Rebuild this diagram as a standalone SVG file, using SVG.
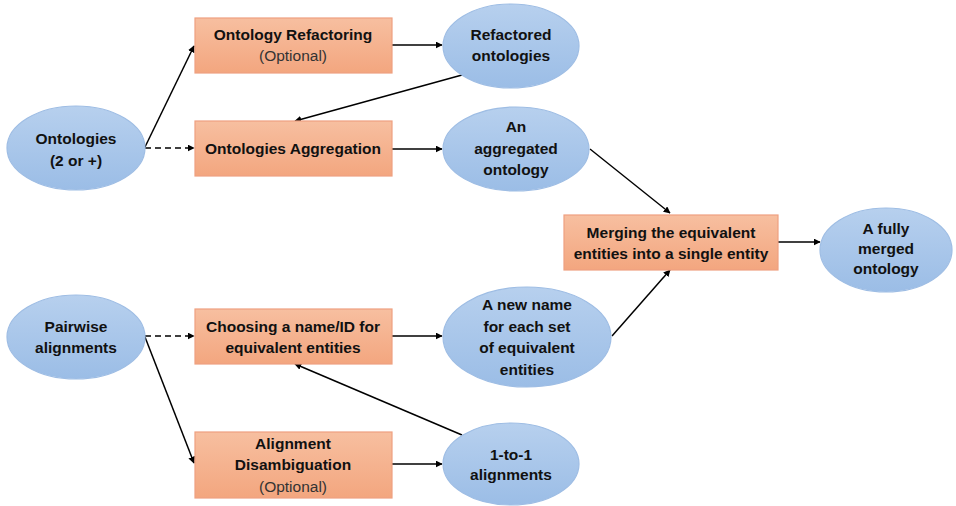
<svg xmlns="http://www.w3.org/2000/svg" width="956" height="506" viewBox="0 0 956 506">
<defs>
<linearGradient id="gb" x1="0" y1="0" x2="0" y2="1"><stop offset="0" stop-color="#B7D0EE"/><stop offset="1" stop-color="#9BBDE6"/></linearGradient>
<linearGradient id="go" x1="0" y1="0" x2="0" y2="1"><stop offset="0" stop-color="#F7BFA0"/><stop offset="1" stop-color="#F3A67F"/></linearGradient>
<marker id="ah" viewBox="0 0 10 10" refX="9" refY="5" markerWidth="7" markerHeight="7" markerUnits="userSpaceOnUse" orient="auto"><path d="M0,0 L10,5 L0,10 z" fill="#000"/></marker>
</defs>
<style>
.e{fill:url(#gb);stroke:#9EBDE4;stroke-width:1.2}
.b{fill:url(#go);stroke:#EFA080;stroke-width:1.2}
text{font-family:"Liberation Sans",Arial,sans-serif;font-size:15.5px;font-weight:bold;fill:#111;text-anchor:middle}
.n{font-weight:normal;fill:#333}
.c line{stroke:#000;stroke-width:1.5;marker-end:url(#ah)}
.c .d{stroke-dasharray:6,4}
</style>
<rect width="956" height="506" fill="#fff"/>
<g class="c" id="connectors">
<line x1="145" y1="147" x2="194" y2="46"/>
<line class="d" x1="145" y1="148" x2="194" y2="148"/>
<line x1="392" y1="45" x2="442" y2="45"/>
<line x1="462" y1="75" x2="295" y2="121"/>
<line x1="392" y1="149" x2="442" y2="149"/>
<line x1="590" y1="149" x2="670" y2="213"/>
<line x1="612" y1="336" x2="670" y2="270"/>
<line x1="778" y1="242" x2="820" y2="242"/>
<line class="d" x1="145" y1="336" x2="194" y2="336"/>
<line x1="145" y1="337" x2="194" y2="463"/>
<line x1="392" y1="336" x2="442" y2="336"/>
<line x1="462" y1="435" x2="295" y2="364"/>
<line x1="392" y1="464" x2="442" y2="464"/>
</g>
<g id="ontologies"><ellipse class="e" cx="76" cy="148" rx="69" ry="42"/><text x="76" y="144">Ontologies</text><text x="76" y="166">(2 or +)</text></g>
<g id="refactoring"><rect class="b" x="195" y="18" width="197" height="55"/><text x="293" y="40">Ontology Refactoring</text><text class="n" x="293" y="61">(Optional)</text></g>
<g id="aggregation"><rect class="b" x="195" y="121" width="197" height="55"/><text x="293" y="154">Ontologies Aggregation</text></g>
<g id="refactored"><ellipse class="e" cx="511" cy="46" rx="68" ry="42"/><text x="511" y="40">Refactored</text><text x="511" y="61">ontologies</text></g>
<g id="aggregated"><ellipse class="e" cx="516" cy="149" rx="73" ry="42"/><text x="516" y="132">An</text><text x="516" y="154">aggregated</text><text x="516" y="175">ontology</text></g>
<g id="merging"><rect class="b" x="564" y="215" width="214" height="55"/><text x="671" y="238">Merging the equivalent</text><text x="671" y="259">entities into a single entity</text></g>
<g id="fully"><ellipse class="e" cx="886" cy="250" rx="66" ry="42"/><text x="886" y="234">A fully</text><text x="886" y="254">merged</text><text x="886" y="274">ontology</text></g>
<g id="pairwise"><ellipse class="e" cx="76" cy="337" rx="69" ry="42"/><text x="76" y="332">Pairwise</text><text x="76" y="353">alignments</text></g>
<g id="choosing"><rect class="b" x="195" y="309" width="197" height="55"/><text x="293" y="332">Choosing a name/ID for</text><text x="293" y="353">equivalent entities</text></g>
<g id="newname"><ellipse class="e" cx="527" cy="337" rx="84" ry="50"/><text x="527" y="310">A new name</text><text x="527" y="332">for each set</text><text x="527" y="353">of equivalent</text><text x="527" y="375">entities</text></g>
<g id="disambiguation"><rect class="b" x="195" y="432" width="197" height="66"/><text x="293" y="449">Alignment</text><text x="293" y="470">Disambiguation</text><text class="n" x="293" y="492">(Optional)</text></g>
<g id="onetoone"><ellipse class="e" cx="511" cy="464" rx="68" ry="41"/><text x="511" y="460">1-to-1</text><text x="511" y="480">alignments</text></g>
</svg>
